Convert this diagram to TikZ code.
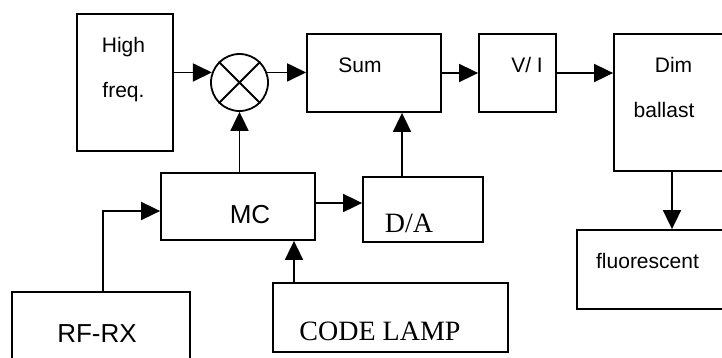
\documentclass[tikz,border=0pt]{standalone}
\usepackage{fontspec}
\setmainfont{Liberation Serif}
\setsansfont{Liberation Sans}
\usetikzlibrary{arrows.meta}
\tikzset{
  box/.style={draw, line width=1.8pt, inner sep=0pt, rectangle},
  arr/.style={line width=1.8pt, -{Triangle[length=19pt,width=18pt]}},
  sanstxt/.style={font=\fontsize{21}{21}\sffamily, anchor=base, inner sep=0pt},
  bigsans/.style={font=\fontsize{26}{26}\sffamily, anchor=base, inner sep=0pt},
  serif/.style={font=\fontsize{28}{28}\rmfamily, anchor=base, inner sep=0pt}
}
\begin{document}
\begin{tikzpicture}[x=1pt,y=-1pt]
\useasboundingbox (0,0) rectangle (722,357);
\clip (0,0) rectangle (722,357);
% boxes
\node[box, minimum width=96pt, minimum height=137pt] (hf) at (125,82.5) {};
\node[draw, circle, line width=1.8pt, minimum size=57pt, inner sep=0pt] (mx) at (239.5,82.5) {};
\draw[line width=1.8pt] (mx.45) -- (mx.225) (mx.135) -- (mx.-45);
\node[box, minimum width=134pt, minimum height=78pt] (sum) at (374,73) {};
\node[box, minimum width=77pt, minimum height=78pt] (vi) at (517.5,73) {};
\node[box, minimum width=116pt, minimum height=137pt] (dim) at (672,102.5) {};
\node[box, minimum width=158pt, minimum height=79pt] (fl) at (656,269.5) {};
\node[box, minimum width=154pt, minimum height=67pt] (mc) at (238,206.5) {};
\node[box, minimum width=120pt, minimum height=65pt] (da) at (423,209.5) {};
\node[box, minimum width=178pt, minimum height=78pt] (rf) at (101,331) {};
\node[box, minimum width=235pt, minimum height=69pt] (cl) at (390.5,317.5) {};
% texts
\node[sanstxt] (t1) at (123.5,52) {High};
\node[sanstxt] (t2) at (123.5,97) {freq.};
\node[sanstxt] (t3) at (360,72) {Sum};
\node[sanstxt] (t4) at (527,72) {V/ I};
\node[sanstxt] (t5) at (673.5,72) {Dim};
\node[sanstxt] (t6) at (664,117) {ballast};
\node[sanstxt] (t7) at (647.5,268) {fluorescent};
\node[bigsans] (t8) at (250,223) {MC};
\node[bigsans] (t9) at (97,342) {RF-RX};
\node[serif] (t10) at (409,232) {D/A};
\node[serif] (t11) at (380,340) {CODE LAMP};
% connectors
\draw[arr] (hf.east |- mx.160) -- (mx.160);
\draw[arr] (mx.20) -- (sum.west |- mx.20);
\draw[arr] (sum.east) -- (vi.west);
\draw[arr] (vi.east) -- (vi.east -| dim.west);
\draw[arr] (dim.south) -- (dim.south |- fl.north);
\draw[arr] (mx.south |- mc.north) -- (mx.south);
\draw[arr] ([yshift=3.5pt]mc.east) coordinate (a1) -- (a1 -| da.west);
\draw[arr] ([xshift=-21pt]da.north) coordinate (a2) -- (a2 |- sum.south);
\draw[arr] ([xshift=2pt]rf.north) |- ([yshift=-4.5pt]mc.west);
\draw[arr] ([xshift=56pt]mc.south |- cl.north) coordinate (a3) -- (a3 |- mc.south);
\end{tikzpicture}
\end{document}
